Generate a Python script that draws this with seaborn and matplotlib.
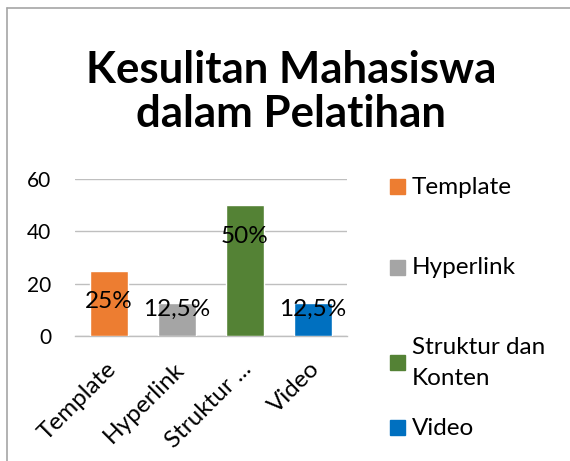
"""
Bar chart: Kesulitan Mahasiswa dalam Pelatihan
"""
import matplotlib
matplotlib.use("Agg")
import matplotlib.pyplot as plt
import matplotlib.patches as mpatches
import matplotlib.transforms as mtransforms
import pandas as pd
import seaborn as sns

categories = ["Template", "Hyperlink", "Struktur dan Konten", "Video"]
tick_labels = ["Template", "Hyperlink", "Struktur ...", "Video"]
legend_labels = ["Template", "Hyperlink", "Struktur dan\nKonten", "Video"]
values = [25, 12.5, 50, 12.5]
value_labels = ["25%", "12,5%", "50%", "12,5%"]
colors = ["#ED7D31", "#A5A5A5", "#548235", "#0070C0"]

sns.set_theme(style="white")
plt.rcParams["font.family"] = ["Lato", "DejaVu Sans"]
plt.rcParams["text.color"] = "black"

df = pd.DataFrame({"kategori": categories, "nilai": values})

fig = plt.figure(figsize=(5.7, 4.61), dpi=100)
ax = fig.add_axes([75 / 570, 1 - 336 / 461, 272 / 570, 157 / 461])

sns.barplot(data=df, x="kategori", y="nilai", hue="kategori", palette=colors,
            width=0.57, saturation=1, legend=False, ax=ax, zorder=3)

ax.set_ylim(0, 60)
ax.set_xlim(-0.5, 3.5)
ax.set_yticks([0, 20, 40, 60])
ax.yaxis.grid(True, color="#BFBFBF", linewidth=1, zorder=0)
ax.set_axisbelow(True)
for side in ["left", "right", "top"]:
    ax.spines[side].set_visible(False)
ax.spines["bottom"].set_color("#BFBFBF")
ax.spines["bottom"].set_linewidth(1)
ax.tick_params(axis="both", length=0, labelsize=15, colors="black")
ax.tick_params(axis="y", pad=17)
ax.set_xlabel("")
ax.set_ylabel("")
ax.set_xticks(range(len(categories)))
ax.set_xticklabels(tick_labels, rotation=45, ha="right", rotation_mode="anchor",
                   fontsize=17.5)
ax.tick_params(axis="x", pad=16)
shift = mtransforms.ScaledTranslation(-4 / 100, 0, fig.dpi_scale_trans)
for lbl in ax.get_xticklabels():
    lbl.set_transform(lbl.get_transform() + shift)

# data labels, placed inside the bar near its top
for i, (v, txt) in enumerate(zip(values, value_labels)):
    ax.text(i, max(v - 12, 10), txt, ha="center", va="center", fontsize=17.5,
            color="black", zorder=4)

# title
fig.text(291 / 570, 1 - 92 / 461, "Kesulitan Mahasiswa\ndalam Pelatihan",
         ha="center", va="center", fontsize=31.5, fontweight="bold",
         linespacing=1.12, color="black")

# legend on the right
legend_y = [187, 268, 363, 428]
for lab, col, yy in zip(legend_labels, colors, legend_y):
    fig.patches.append(mpatches.Rectangle((390 / 570, 1 - (yy + 7) / 461), 15 / 570, 15 / 461,
                                          transform=fig.transFigure, color=col))
    fig.text(412 / 570, 1 - yy / 461, lab, ha="left", va="center", fontsize=17.5,
             linespacing=1.55, color="black")

# chart area border (cut off at right and bottom)
fig.add_artist(plt.Line2D([7 / 570, 7 / 570], [0, 1 - 8 / 461], color="#A6A6A6",
                          linewidth=1.2, transform=fig.transFigure))
fig.add_artist(plt.Line2D([7 / 570, 1], [1 - 8 / 461, 1 - 8 / 461], color="#A6A6A6",
                          linewidth=1.2, transform=fig.transFigure))

fig.savefig("out.png", dpi=100, facecolor="white")
